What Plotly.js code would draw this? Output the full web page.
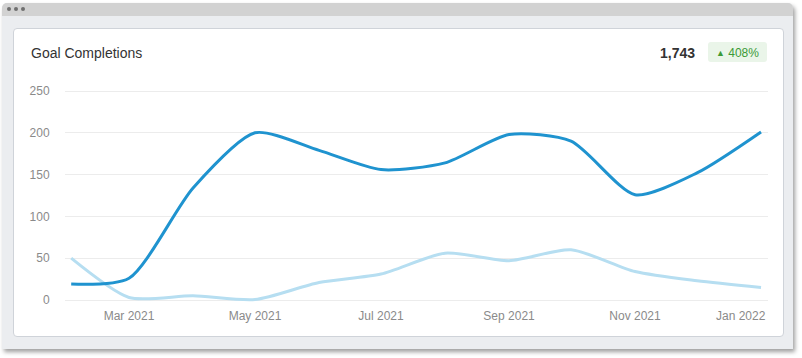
<!DOCTYPE html>
<html>
<head>
<meta charset="utf-8">
<script src="https://cdn.plot.ly/plotly-3.0.1.min.js"></script>
<style>
  html, body { margin: 0; padding: 0; width: 802px; height: 358px; background: #ffffff; overflow: hidden;
    font-family: "Liberation Sans", Arial, Helvetica, sans-serif; }
  #win { position: absolute; left: 2px; top: 3px; width: 791px; height: 346px; background: #ebedf0;
    border-radius: 5px 5px 0 0; box-shadow: 2px 3px 4px rgba(0,0,0,0.38); overflow: hidden; }
  #bar { position: absolute; left: 0; top: 0; width: 100%; height: 13px; background: #d2d2d2; }
  .dot { position: absolute; top: 4px; width: 4px; height: 4px; border-radius: 50%; background: #6f6f6f; }
  #card { position: absolute; left: 13px; top: 28px; width: 769px; height: 307px; background: #ffffff;
    border: 1px solid #cfd3d9; border-radius: 4px; }
  #plot { position: absolute; left: 13px; top: 28px; width: 771px; height: 309px; }
  #title { position: absolute; left: 31px; top: 45px; font-size: 14px; color: #333333; }
  #total { position: absolute; right: 107px; top: 45px; font-size: 14px; font-weight: bold; color: #333333; }
  #badge { position: absolute; left: 708px; top: 42px; width: 59px; height: 20px; background: #eaf5e9;
    border-radius: 3px; color: #3c9a37; font-size: 12px; line-height: 23px; text-align: center; overflow: hidden; }
  #badge .tri { font-size: 9px; vertical-align: 1px; }
</style>
</head>
<body>
<div id="win">
  <div id="bar"></div>
  <div class="dot" style="left:5px"></div>
  <div class="dot" style="left:12px"></div>
  <div class="dot" style="left:19px"></div>
</div>
<div id="card"></div>
<div id="title">Goal Completions</div>
<div id="total">1,743</div>
<div id="badge"><span class="tri">&#9650;</span> 408%</div>
<div id="plot"></div>
<script>
const months = ['2021-02-01','2021-03-01','2021-04-01','2021-05-01','2021-06-01','2021-07-01',
                '2021-08-01','2021-09-01','2021-10-01','2021-11-01','2021-12-01','2022-01-01'];
const goalCompletions = [19, 26, 134, 200, 179, 156, 164, 198, 190, 126, 152, 201];
const previousPeriod  = [50, 3, 5, 0.5, 21, 31, 56, 47, 60, 34, 23, 15];
const tickDates = ['2021-03-01','2021-05-01','2021-07-01','2021-09-01','2021-11-01'];
const tickLabels = ['Mar 2021','May 2021','Jul 2021','Sep 2021','Nov 2021'];
const lastTickLabel = 'Jan 2022';
const yTicks = [0, 50, 100, 150, 200, 250];

const FONT = '"Liberation Sans", Arial, Helvetica, sans-serif';

const traces = [
  { x: months, y: previousPeriod, type: 'scatter', mode: 'lines',
    line: { color: '#b6def1', width: 3, shape: 'spline', smoothing: 0.7 }, hoverinfo: 'skip' },
  { x: months, y: goalCompletions, type: 'scatter', mode: 'lines',
    line: { color: '#1f93cf', width: 3, shape: 'spline', smoothing: 0.7 }, hoverinfo: 'skip' }
];

const layout = {
  width: 771, height: 309,
  margin: { l: 52, r: 16, t: 60, b: 34, pad: 0 },
  paper_bgcolor: 'rgba(0,0,0,0)', plot_bgcolor: 'rgba(0,0,0,0)',
  showlegend: false,
  font: { family: FONT, size: 12, color: '#8a8a8a' },
  xaxis: {
    type: 'date', range: ['2021-01-29', '2022-01-04 09:00'],
    tickmode: 'array', tickvals: tickDates, ticktext: tickLabels,
    showgrid: false, zeroline: false, showline: false,
    ticks: 'outside', ticklen: 2, tickcolor: 'rgba(0,0,0,0)',
    tickfont: { family: FONT, size: 12, color: '#8a8a8a' }
  },
  yaxis: {
    range: [-3.589, 253.589],
    tickmode: 'array', tickvals: yTicks,
    showgrid: true, gridcolor: '#ececec', gridwidth: 1,
    zeroline: false, showline: false,
    ticks: 'outside', ticklen: 12, tickcolor: 'rgba(0,0,0,0)',
    tickfont: { family: FONT, size: 12, color: '#8a8a8a' }
  },
  annotations: [
    { text: lastTickLabel, xref: 'paper', yref: 'paper', x: 1, y: 0, xanchor: 'right', yanchor: 'top',
      yshift: -4, showarrow: false, font: { family: FONT, size: 12, color: '#8a8a8a' } }
  ]
};

Plotly.newPlot('plot', traces, layout, { staticPlot: true, displayModeBar: false });
</script>
</body>
</html>
